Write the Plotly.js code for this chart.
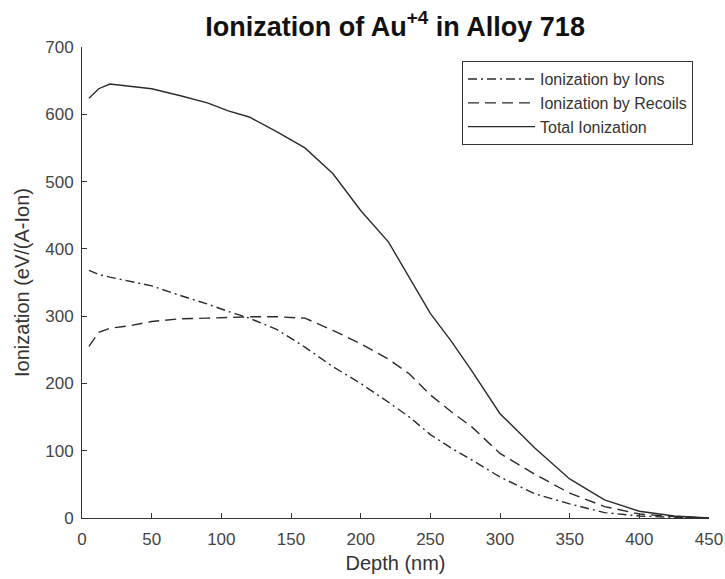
<!DOCTYPE html>
<html>
<head>
<meta charset="utf-8">
<script src="https://cdn.plot.ly/plotly-3.0.1.min.js"></script>
<style>html,body{margin:0;padding:0;background:#fff;}#chart{width:725px;height:579px;}</style>
</head>
<body>
<div id="chart"></div>
<script>
const depth = [5, 12, 20, 35, 50, 70, 90, 105, 120, 140, 160, 180, 200, 220, 235, 250, 265, 280, 300, 325, 350, 375, 400, 425, 450];
const ions = [368, 362, 358, 351, 345, 331, 318, 307, 297, 280, 254, 225, 200, 172, 150, 124, 104, 86, 61, 36, 21, 8, 3, 1, 0];
const recoils = [255, 276, 282, 286, 292, 296, 297, 298, 299, 299, 297, 279, 259, 236, 214, 183, 158, 135, 96, 65, 37, 17, 6, 2, 0];
const total = [624, 638, 645, 641, 638, 628, 617, 605, 596, 574, 550, 512, 457, 410, 358, 304, 263, 218, 155, 104, 58, 27, 10, 3, 0];
const xTicks = [0, 50, 100, 150, 200, 250, 300, 350, 400, 450];
const yTicks = [0, 100, 200, 300, 400, 500, 600, 700];

const lineColor = '#2b2b2b';
const traces = [
  {x: depth, y: ions, name: 'Ionization by Ions', mode: 'lines', line: {color: lineColor, width: 1.4, dash: '9px,4px,2px,4px'}},
  {x: depth, y: recoils, name: 'Ionization by Recoils', mode: 'lines', line: {color: lineColor, width: 1.4, dash: '11px,6px'}},
  {x: depth, y: total, name: 'Total Ionization', mode: 'lines', line: {color: lineColor, width: 1.4}}
];
const fam = 'Liberation Sans, Arial, sans-serif';
const layout = {
  width: 725, height: 579,
  margin: {l: 82, r: 16, t: 47, b: 61},
  paper_bgcolor: '#fff', plot_bgcolor: '#fff',
  font: {family: fam, color: '#333'},
  title: {text: 'Ionization of Au<sup>+4</sup> in Alloy 718', x: 0.545, xanchor: 'center', y: 0.955, yanchor: 'middle',
          font: {family: fam, size: 27, color: '#111', weight: 'bold'}},
  showlegend: true,
  legend: {x: 0.9745, xanchor: 'right', y: 0.97, yanchor: 'top', bgcolor: '#fff', bordercolor: '#333', borderwidth: 1,
           font: {size: 16, color: '#333', family: fam}, itemwidth: 67, tracegroupgap: 0},
  xaxis: {range: [0, 450], tickvals: xTicks, ticktext: xTicks.map(String), ticks: 'inside', ticklen: 5, tickcolor: '#333',
          showline: true, linecolor: '#333', linewidth: 1, showgrid: false, zeroline: false,
          tickfont: {size: 17, color: '#444'}, ticklabelstandoff: 6,
          title: {text: 'Depth (nm)', font: {size: 20, color: '#333'}, standoff: 7}},
  yaxis: {range: [0, 700], tickvals: yTicks, ticktext: yTicks.map(String), ticks: 'inside', ticklen: 5, tickcolor: '#333',
          showline: true, linecolor: '#333', linewidth: 1, showgrid: false, zeroline: false,
          tickfont: {size: 17, color: '#444'}, ticklabelstandoff: 4,
          title: {text: 'Ionization (eV/(A-Ion)', font: {size: 20, color: '#333'}, standoff: 10}}
};
Plotly.newPlot('chart', traces, layout, {displayModeBar: false, staticPlot: true});
</script>
</body>
</html>
